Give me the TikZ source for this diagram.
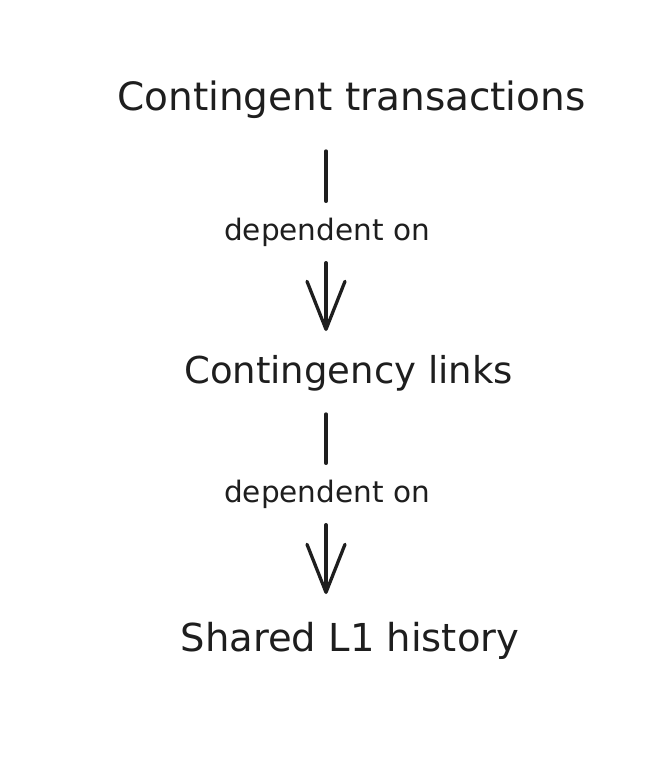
\documentclass[tikz,border=0pt]{standalone}
\usepackage{fontspec}
\setmainfont{DejaVu Sans}
\usetikzlibrary{arrows.meta}
\definecolor{ink}{HTML}{1E1E1E}
\tikzset{
  bigtext/.style={text=ink, inner sep=0pt, anchor=base, font=\fontsize{#1}{40}\selectfont},
  bigtext/.default=37,
  edgelabel/.style={text=ink, inner xsep=2pt, inner ysep=0pt, minimum height=61pt, fill=white, font=\fontsize{29.5}{32}\selectfont},
  link/.style={draw=ink, line width=3.3pt, line cap=round},
  linkarrow/.style={link, -{Straight Barb[length=48pt, width=38pt, line width=3.3pt, round]}},
}
\begin{document}
\begin{tikzpicture}[x=1pt, y=-1pt]
  \useasboundingbox (0,0) rectangle (648,774);
  \node[bigtext=39] (t1) at (351.5,110) {Contingent transactions};
  \node[bigtext=37] (t2) at (348.5,383) {Contingency links};
  \node[bigtext=38.5] (t3) at (350,651) {Shared L1 history};
  \coordinate (a1s) at (326,151);
  \coordinate (a1e) at (326,331);
  \coordinate (a2s) at (326,414);
  \coordinate (a2e) at (326,594);
  \node[edgelabel] (l1) at (327,232) {dependent on};
  \node[edgelabel] (l2) at (327,494) {dependent on};
  \draw[link] (a1s) -- (l1.north -| a1s);
  \draw[linkarrow] (l1.south -| a1e) -- (a1e);
  \draw[link] (a2s) -- (l2.north -| a2s);
  \draw[linkarrow] (l2.south -| a2e) -- (a2e);
\end{tikzpicture}
\end{document}
